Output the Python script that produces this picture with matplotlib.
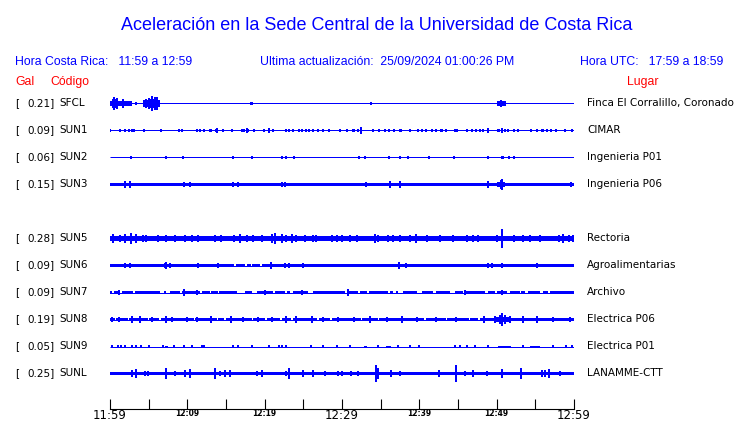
import matplotlib
matplotlib.use('Agg')
import matplotlib.pyplot as plt

# ---------------- data ----------------
stations = ['SFCL', 'SUN1', 'SUN2', 'SUN3', 'SUN5', 'SUN6', 'SUN7', 'SUN8', 'SUN9', 'SUNL']
peaks_gal = [0.21, 0.09, 0.06, 0.15, 0.28, 0.09, 0.09, 0.19, 0.05, 0.25]
places = ['Finca El Corralillo, Coronado', 'CIMAR', 'Ingenieria P01', 'Ingenieria P06',
          'Rectoria', 'Agroalimentarias', 'Archivo', 'Electrica P06', 'Electrica P01', 'LANAMME-CTT']
# background noise half-amplitude (Gal)
noise_gal = [0.0, 0.0, 0.0, 0.05, 0.07, 0.04, 0.045, 0.055, 0.0, 0.05]

tick_minutes = [0, 5, 10, 15, 20, 25, 30, 35, 40, 45, 50, 55, 60]
tick_labels = ['11:59', '', '12:09', '', '12:19', '', '12:29', '', '12:39', '', '12:49', '', '12:59']
big_labels = ['11:59', '12:29', '12:59']

# bursts: (start_min, end_min, half-amplitude Gal)
bursts_SFCL = [(0.0, 2.8, 0.09), (0.3, 0.9, 0.14), (4.3, 6.5, 0.12), (5.0, 6.1, 0.15), (50.0, 51.2, 0.09)]
bursts_SUN1 = [(0.3, 0.6, 0.03), (2.7, 3.2, 0.04), (12.8, 13.2, 0.04), (13.6, 14.0, 0.04), (16.9, 17.4, 0.04),
               (31.3, 31.7, 0.04), (37.4, 37.8, 0.04), (42.7, 43.1, 0.04), (50.0, 50.4, 0.04), (55.7, 56.1, 0.04)]
bursts_SUN2 = [(1.8, 2.1, 0.03), (10.3, 10.6, 0.03), (50.0, 50.4, 0.03), (50.6, 51.0, 0.04)]
bursts_SUN3 = [(50.1, 51.1, 0.09)]
bursts_SUN5 = [(0.0, 4.8, 0.09), (20.6, 22.6, 0.09), (58.0, 60.0, 0.09)]
bursts_SUN6 = []
bursts_SUN7 = []
bursts_SUN8 = [(49.8, 51.6, 0.09)]
bursts_SUN9 = [(7.1, 7.5, 0.03), (32.8, 33.2, 0.03), (35.7, 36.3, 0.03), (50.2, 51.8, 0.03), (54.3, 55.6, 0.03)]
bursts_SUNL = []

# spikes: (minute, half-amplitude Gal)
spikes_SFCL = [(0.56, 0.19), (0.9, 0.16), (1.72, 0.12), (3.36, 0.03), (4.6, 0.13), (5.1, 0.15), (5.47, 0.21),
               (5.8, 0.17), (6.03, 0.19), (18.2, 0.03), (18.4, 0.03), (33.7, 0.04), (50.5, 0.1)]
spikes_SUN1 = [(0.0, 0.03), (1.3, 0.03), (2.0, 0.03), (2.5, 0.02), (4.4, 0.03), (6.6, 0.03), (8.9, 0.02),
               (9.35, 0.02), (11.2, 0.03), (11.7, 0.04), (12.2, 0.02), (13.8, 0.05), (14.6, 0.03), (15.8, 0.03),
               (17.7, 0.06), (17.9, 0.04), (18.6, 0.03), (19.9, 0.02), (20.6, 0.07), (21.1, 0.04), (22.7, 0.03),
               (23.1, 0.04), (23.6, 0.04), (24.4, 0.03), (24.8, 0.02), (25.4, 0.02), (25.7, 0.03), (26.3, 0.02),
               (26.9, 0.02), (27.5, 0.03), (28.3, 0.02), (29.7, 0.03), (30.7, 0.03), (32.1, 0.03), (32.5, 0.09),
               (34.0, 0.03), (34.8, 0.02), (35.5, 0.02), (36.1, 0.03), (36.7, 0.03), (38.8, 0.04), (39.8, 0.03),
               (40.3, 0.02), (40.9, 0.02), (41.6, 0.02), (42.2, 0.03), (43.5, 0.02), (44.6, 0.02), (44.9, 0.03),
               (46.2, 0.02), (46.8, 0.03), (47.3, 0.02), (47.8, 0.03), (48.2, 0.02), (48.9, 0.06), (50.7, 0.07),
               (51.1, 0.04), (51.5, 0.03), (52.2, 0.02), (52.8, 0.04), (54.4, 0.04), (55.2, 0.03), (56.5, 0.02),
               (57.0, 0.03), (57.7, 0.03), (58.9, 0.02), (59.7, 0.03)]
spikes_SUN2 = [(2.7, 0.03), (7.3, 0.03), (9.5, 0.02), (15.9, 0.03), (18.4, 0.03), (22.3, 0.03), (22.7, 0.03),
               (23.8, 0.02), (32.2, 0.03), (33.0, 0.02), (36.1, 0.03), (37.5, 0.03), (38.5, 0.03), (41.2, 0.02),
               (44.5, 0.03), (48.9, 0.04), (51.6, 0.03), (52.3, 0.03)]
spikes_SUN3 = [(1.94, 0.08), (2.6, 0.08), (9.6, 0.07), (10.4, 0.07), (15.9, 0.07), (16.6, 0.06), (22.2, 0.07),
               (22.6, 0.06), (33.1, 0.06), (36.2, 0.08), (37.5, 0.08), (48.9, 0.08), (50.7, 0.15), (50.5, 0.11),
               (59.6, 0.06)]
spikes_SUN5 = [(0.43, 0.12), (1.3, 0.1), (1.94, 0.11), (2.7, 0.15), (3.4, 0.12), (4.3, 0.1), (4.7, 0.1),
               (6.25, 0.09), (7.3, 0.1), (8.4, 0.1), (9.7, 0.09), (10.6, 0.09), (11.4, 0.1), (13.6, 0.08),
               (14.4, 0.09), (16.0, 0.09), (16.8, 0.12), (17.7, 0.1), (18.5, 0.09), (19.6, 0.1), (20.9, 0.12),
               (21.3, 0.15), (22.2, 0.12), (22.8, 0.1), (23.5, 0.11), (24.1, 0.1), (25.2, 0.1), (26.3, 0.1),
               (26.7, 0.09), (28.7, 0.1), (29.3, 0.09), (29.96, 0.09), (31.0, 0.08), (31.9, 0.08), (34.3, 0.12),
               (34.7, 0.1), (36.0, 0.1), (36.6, 0.1), (37.5, 0.09), (38.8, 0.09), (39.6, 0.12), (41.0, 0.08),
               (42.7, 0.08), (44.4, 0.08), (46.1, 0.08), (47.0, 0.1), (47.6, 0.08), (50.0, 0.08), (50.7, 0.28),
               (52.2, 0.08), (53.4, 0.1), (54.3, 0.1), (55.6, 0.08), (58.0, 0.1), (58.6, 0.11), (59.4, 0.1),
               (59.9, 0.1)]
spikes_SUN6 = [(1.94, 0.06), (2.6, 0.05), (7.1, 0.07), (7.3, 0.09), (7.7, 0.07), (11.4, 0.06), (14.0, 0.07),
               (20.8, 0.08), (22.6, 0.05), (23.1, 0.06), (25.0, 0.05), (33.4, 0.04), (37.4, 0.09), (38.3, 0.05),
               (48.9, 0.06), (49.4, 0.06), (50.7, 0.06), (55.2, 0.05)]
spikes_SUN7 = [(1.1, 0.05), (9.6, 0.08), (11.2, 0.06), (20.0, 0.06), (24.8, 0.05), (30.8, 0.08), (37.1, 0.04),
               (45.9, 0.05), (47.9, 0.04), (50.7, 0.05)]
spikes_SUN8 = [(0.2, 0.07), (1.1, 0.07), (2.8, 0.08), (3.9, 0.09), (5.4, 0.07), (7.3, 0.09), (8.0, 0.07),
               (9.9, 0.07), (11.2, 0.07), (13.1, 0.09), (15.7, 0.08), (17.2, 0.07), (19.2, 0.07), (20.9, 0.07),
               (22.8, 0.08), (24.1, 0.09), (26.1, 0.09), (27.6, 0.07), (29.5, 0.07), (31.5, 0.07), (33.6, 0.08),
               (35.8, 0.07), (37.7, 0.08), (39.7, 0.07), (42.2, 0.06), (44.8, 0.07), (48.3, 0.08), (49.8, 0.08),
               (50.4, 0.11), (50.7, 0.19), (51.1, 0.12), (51.7, 0.09), (53.4, 0.08), (55.2, 0.08), (57.3, 0.07),
               (59.5, 0.07)]
spikes_SUN9 = [(0.2, 0.02), (1.0, 0.03), (1.4, 0.02), (2.0, 0.03), (2.8, 0.03), (3.3, 0.02), (4.0, 0.02),
               (5.0, 0.02), (6.8, 0.02), (8.3, 0.02), (9.6, 0.02), (10.6, 0.03), (11.85, 0.02), (12.2, 0.02),
               (15.9, 0.03), (16.5, 0.02), (18.3, 0.03), (20.5, 0.02), (21.8, 0.02), (22.3, 0.03), (22.7, 0.02),
               (26.0, 0.03), (27.6, 0.02), (29.4, 0.02), (31.0, 0.02), (34.6, 0.02), (37.3, 0.03), (38.8, 0.03),
               (39.9, 0.02), (44.6, 0.03), (45.2, 0.02), (46.2, 0.02), (47.2, 0.02), (48.9, 0.03), (53.4, 0.02),
               (57.3, 0.02), (59.0, 0.02), (59.7, 0.03)]
spikes_SUNL = [(2.8, 0.08), (3.4, 0.13), (4.5, 0.07), (4.9, 0.07), (7.3, 0.15), (8.4, 0.07), (9.7, 0.08),
               (10.3, 0.13), (13.6, 0.15), (14.2, 0.07), (14.9, 0.09), (15.5, 0.08), (19.0, 0.07), (19.6, 0.08),
               (22.8, 0.07), (23.1, 0.15), (25.0, 0.1), (26.3, 0.09), (27.8, 0.06), (29.5, 0.06), (29.96, 0.06),
               (31.2, 0.07), (32.1, 0.06), (34.4, 0.25), (34.6, 0.15), (36.4, 0.09), (37.5, 0.07), (42.5, 0.08),
               (44.8, 0.25), (45.9, 0.07), (47.0, 0.09), (48.7, 0.06), (50.7, 0.12), (53.2, 0.14), (55.8, 0.09),
               (56.3, 0.09), (56.8, 0.11), (58.2, 0.05)]

# quiet stretches where the noise band thins to a line: (start_min, end_min)
quiet_SUN7 = [(0.2, 0.56), (1.3, 1.5), (3.0, 3.2), (5.0, 5.05), (6.5, 7.0), (7.3, 7.75), (9.05, 9.35),
              (11.65, 11.85), (12.9, 13.0), (14.0, 14.1), (16.4, 17.45), (18.3, 18.95), (21.1, 21.4),
              (22.6, 22.85), (23.3, 23.7), (25.65, 26.3), (30.4, 30.6), (32.1, 32.3), (33.2, 33.5),
              (36.0, 36.2), (36.6, 37.9), (39.65, 40.3), (41.8, 42.2), (44.0, 44.6), (45.7, 45.8),
              (46.5, 46.6), (48.5, 48.9), (49.8, 50.0), (51.3, 51.7), (53.0, 53.2), (53.7, 54.1),
              (55.6, 56.0), (56.7, 56.9)]
quiet_SUN8 = [(0.6, 0.8), (2.3, 2.5), (4.9, 5.1), (6.4, 6.6), (10.8, 11.0), (13.8, 14.0), (14.8, 15.0),
              (18.3, 18.5), (20.1, 20.3), (22.0, 22.2), (23.4, 23.6), (26.8, 27.0), (28.5, 28.7),
              (32.4, 32.6), (34.6, 34.8), (40.6, 40.8), (43.4, 43.6), (46.4, 46.6), (47.6, 47.8)]
quiet_SUN6 = [(16.0, 16.3), (17.5, 17.7), (18.2, 18.4), (19.4, 19.6)]

bursts = dict(SFCL=bursts_SFCL, SUN1=bursts_SUN1, SUN2=bursts_SUN2, SUN3=bursts_SUN3, SUN5=bursts_SUN5,
              SUN6=bursts_SUN6, SUN7=bursts_SUN7, SUN8=bursts_SUN8, SUN9=bursts_SUN9, SUNL=bursts_SUNL)
spikes = dict(SFCL=spikes_SFCL, SUN1=spikes_SUN1, SUN2=spikes_SUN2, SUN3=spikes_SUN3, SUN5=spikes_SUN5,
              SUN6=spikes_SUN6, SUN7=spikes_SUN7, SUN8=spikes_SUN8, SUN9=spikes_SUN9, SUNL=spikes_SUNL)
quiet = dict(SUN6=quiet_SUN6, SUN7=quiet_SUN7, SUN8=quiet_SUN8)

# ---------------- layout ----------------
W, H = 740, 423
BLUE = '#0000ff'
RED = '#ff0000'
row_slot = [0, 1, 2, 3, 5, 6, 7, 8, 9, 10]   # SUN4 slot left empty
ROW0, ROWSTEP = 103.5, 27                       # pixel rows (pixel centres)
GAIN = 33.0                                     # pixels per Gal
AX_L, AX_R, AX_T, AX_B = 110, 574, 90, 409

fig = plt.figure(figsize=(W / 100, H / 100), dpi=100)
fig.patch.set_facecolor('white')
ax = fig.add_axes([AX_L / W, 1 - AX_B / H, (AX_R - AX_L) / W, (AX_B - AX_T) / H])
ax.set_xlim(tick_minutes[0], tick_minutes[-1])
ax.set_ylim(AX_B, AX_T)
ax.set_facecolor('none')
for s in ['top', 'left', 'right']:
    ax.spines[s].set_visible(False)
ax.spines['bottom'].set_linewidth(0.8)
ax.set_yticks([])
ax.set_xticks(tick_minutes)
ax.set_xticklabels(tick_labels)
ax.tick_params(axis='x', direction='in', length=7.5, width=0.8, pad=0.0, colors='black')
for lab in ax.get_xticklabels():
    if lab.get_text() in big_labels:
        lab.set_fontsize(8.5)
    else:
        lab.set_fontsize(5.5)
        lab.set_fontweight('bold')

t0, t1 = tick_minutes[0], tick_minutes[-1]


def complement(intervals, a, b):
    segs, cur = [], a
    for q0, q1 in sorted(intervals):
        if q0 > cur:
            segs.append((cur, q0))
        cur = max(cur, q1)
    if cur < b:
        segs.append((cur, b))
    return segs


for i, st in enumerate(stations):
    yc = ROW0 + ROWSTEP * row_slot[i]
    ax.hlines(yc, t0, t1, color=BLUE, lw=0.72, antialiased=True)
    nz = noise_gal[i] * GAIN
    if nz > 0:
        for a, b in complement(quiet.get(st, []), t0, t1):
            ax.fill_between([a, b], yc - nz, yc + nz, color=BLUE, lw=0, antialiased=False)
    for a, b, amp in bursts[st]:
        ax.fill_between([a, b], yc - amp * GAIN, yc + amp * GAIN, color=BLUE, lw=0, antialiased=False)
    sp = spikes[st]
    if sp:
        ax.vlines([s[0] for s in sp], [yc - s[1] * GAIN - 0.5 for s in sp], [yc + s[1] * GAIN + 0.5 for s in sp],
                  color=BLUE, lw=1.44, antialiased=False)

# ---------------- texts ----------------
def px(x, y):
    return x / W, 1 - y / H

sans = ['Liberation Sans', 'DejaVu Sans']
fig.text(*px(377, 30), 'Aceleración en la Sede Central de la Universidad de Costa Rica',
         ha='center', va='baseline', color=BLUE, fontsize=13, family=sans)
fig.text(*px(15, 65), 'Hora Costa Rica:   11:59 a 12:59', ha='left', va='baseline', color=BLUE,
         fontsize=8.8, family=sans)
fig.text(*px(260, 65), 'Ultima actualización:  25/09/2024 01:00:26 PM', ha='left', va='baseline', color=BLUE,
         fontsize=8.8, family=sans)
fig.text(*px(580, 65), 'Hora UTC:   17:59 a 18:59', ha='left', va='baseline', color=BLUE,
         fontsize=8.8, family=sans)
fig.text(*px(15, 85), 'Gal', ha='left', va='baseline', color=RED, fontsize=8.8, family=sans)
fig.text(*px(50, 85), 'Código', ha='left', va='baseline', color=RED, fontsize=8.8, family=sans)
fig.text(*px(627, 85), 'Lugar', ha='left', va='baseline', color=RED, fontsize=8.8, family=sans)

for i, st in enumerate(stations):
    yc = ROW0 - 0.5 + ROWSTEP * row_slot[i]
    fig.text(*px(15, yc), '[', ha='left', va='center', fontsize=7.5, color='black')
    fig.text(*px(55, yc), f'{peaks_gal[i]:.2f}]', ha='right', va='center', fontsize=7.5, color='black')
    fig.text(*px(59, yc), st, ha='left', va='center', fontsize=7.5, color='black')
    fig.text(*px(587, yc), places[i], ha='left', va='center', fontsize=7.5, color='black')

fig.savefig('out.png', dpi=100, facecolor='white')
